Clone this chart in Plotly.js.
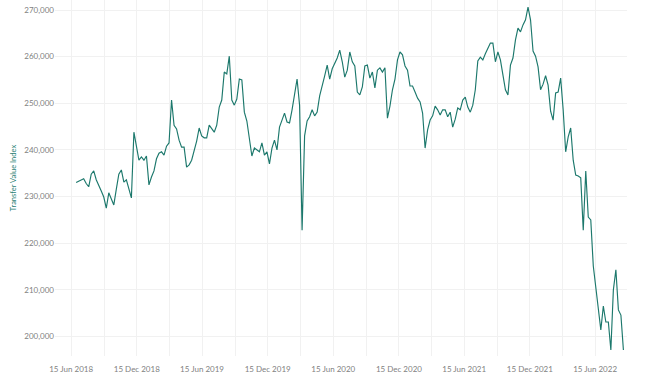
<!DOCTYPE html>
<html>
<head>
<meta charset="utf-8">
<script src="https://cdn.plot.ly/plotly-3.0.1.min.js"></script>
<style>
html,body{margin:0;padding:0;background:#fff;}
#chart{width:649px;height:383px;}
</style>
</head>
<body>
<div id="chart"></div>
<script>
// Weekly observation dates
const dates = [
"2018-06-29","2018-07-06","2018-07-13","2018-07-20","2018-07-27","2018-08-03","2018-08-10","2018-08-17","2018-08-24","2018-08-31",
"2018-09-07","2018-09-14","2018-09-21","2018-09-28","2018-10-05","2018-10-12","2018-10-19","2018-10-26","2018-11-02","2018-11-09",
"2018-11-16","2018-11-23","2018-11-30","2018-12-07","2018-12-14","2018-12-21","2018-12-28",
"2019-01-04","2019-01-11","2019-01-18","2019-01-25","2019-02-01","2019-02-08","2019-02-15","2019-02-22","2019-03-01","2019-03-08",
"2019-03-15","2019-03-22","2019-03-29","2019-04-05","2019-04-12","2019-04-19","2019-04-26","2019-05-03","2019-05-10","2019-05-17",
"2019-05-24","2019-05-31","2019-06-07","2019-06-14","2019-06-21","2019-06-28","2019-07-05","2019-07-12","2019-07-19","2019-07-26",
"2019-08-02","2019-08-09","2019-08-16","2019-08-23","2019-08-30","2019-09-06","2019-09-13","2019-09-20","2019-09-27","2019-10-04",
"2019-10-11","2019-10-18","2019-10-25","2019-11-01","2019-11-08","2019-11-15","2019-11-22","2019-11-29","2019-12-06","2019-12-13",
"2019-12-20","2019-12-27",
"2020-01-03","2020-01-10","2020-01-17","2020-01-24","2020-01-31","2020-02-07","2020-02-14","2020-02-21","2020-02-28","2020-03-06",
"2020-03-13","2020-03-20","2020-03-27","2020-04-03","2020-04-10","2020-04-17","2020-04-24","2020-05-01","2020-05-08","2020-05-15",
"2020-05-22","2020-05-29","2020-06-05","2020-06-12","2020-06-19","2020-06-26","2020-07-03","2020-07-10","2020-07-17","2020-07-24",
"2020-07-31","2020-08-07","2020-08-14","2020-08-21","2020-08-28","2020-09-04","2020-09-11","2020-09-18","2020-09-25","2020-10-02",
"2020-10-09","2020-10-16","2020-10-23","2020-10-30","2020-11-06","2020-11-13","2020-11-20","2020-11-27","2020-12-04","2020-12-11",
"2020-12-18","2020-12-25",
"2021-01-01","2021-01-08","2021-01-15","2021-01-22","2021-01-29","2021-02-05","2021-02-12","2021-02-19","2021-02-26","2021-03-05",
"2021-03-12","2021-03-19","2021-03-26","2021-04-02","2021-04-09","2021-04-16","2021-04-23","2021-04-30","2021-05-07","2021-05-14",
"2021-05-21","2021-05-28","2021-06-04","2021-06-11","2021-06-18","2021-06-25","2021-07-02","2021-07-09","2021-07-16","2021-07-23",
"2021-07-30","2021-08-06","2021-08-13","2021-08-20","2021-08-27","2021-09-03","2021-09-10","2021-09-17","2021-09-24","2021-10-01",
"2021-10-08","2021-10-15","2021-10-22","2021-10-29","2021-11-05","2021-11-12","2021-11-19","2021-11-26","2021-12-03","2021-12-10",
"2021-12-17","2021-12-24","2021-12-31",
"2022-01-07","2022-01-14","2022-01-21","2022-01-28","2022-02-04","2022-02-11","2022-02-18","2022-02-25","2022-03-04","2022-03-11",
"2022-03-18","2022-03-25","2022-04-01","2022-04-08","2022-04-15","2022-04-22","2022-04-29","2022-05-06","2022-05-13","2022-05-20",
"2022-05-27","2022-06-03","2022-06-10","2022-06-17","2022-06-24","2022-07-01","2022-07-08","2022-07-15","2022-07-22","2022-07-29",
"2022-08-05","2022-08-12","2022-08-19","2022-08-26","2022-09-02"
];

// Transfer Value Index (GBP)
const transferValueIndex = [
233000,233300,233600,233800,232800,232100,234800,235500,233600,232500,
231200,229900,227500,230800,229500,228200,231600,234800,235700,233100,
233600,231800,229700,243800,240400,237800,238500,
237800,238700,232500,234200,235500,238100,239300,239600,238900,240800,
241500,250700,245300,244500,242100,240600,240600,236300,236800,237800,
239600,241900,244700,243000,242600,242600,245300,244500,243800,245300,
249200,250700,256700,256300,260100,250700,249600,250900,255200,255000,
248100,246200,242800,238700,240400,240000,239600,241500,238900,239600,
237000,240400,
242100,240000,244900,246400,247900,246000,245800,248600,252000,255200,
249600,222800,243000,246200,247100,248600,247300,248100,251600,253500,
255900,258200,255200,257400,258600,259700,261400,258900,255600,257100,
261000,258900,258000,252400,251800,253500,258000,258200,255400,256700,
253300,257100,257600,256700,257600,246800,249400,252900,255200,259300,
261000,260400,
258000,257100,253700,253700,252400,251100,250300,247900,240400,244300,
246400,247300,249400,248600,247500,248600,248600,247100,248100,244900,
246600,249000,248600,250700,251300,249200,248100,249600,252900,259100,
259900,259300,260600,261900,262900,262900,258900,261000,259300,256100,
252900,251800,258200,259700,263600,266100,265300,266800,267900,270600,
267900,261200,260100,
257800,252900,254100,255900,253900,248300,246400,252200,252400,255400,
248600,239600,242800,244700,237800,234600,234400,234000,222800,235500,
225600,225000,215100,210400,205000,201400,206500,203100,203100,197100,
210000,214300,205700,204600,197100
];

// Axis ticks
const xTickVals = ["2018-06-15","2018-12-15","2019-06-15","2019-12-15","2020-06-15","2020-12-15","2021-06-15","2021-12-15","2022-06-15"];
const xTickText = ["15 Jun 2018","15 Dec 2018","15 Jun 2019","15 Dec 2019","15 Jun 2020","15 Dec 2020","15 Jun 2021","15 Dec 2021","15 Jun 2022"];
const xMinorVals = ["2018-09-15","2019-03-15","2019-09-15","2020-03-15","2020-09-15","2021-03-15","2021-09-15","2022-03-15","2022-09-15"];
const yTickVals = [200000,210000,220000,230000,240000,250000,260000,270000];

const lineColor = "#1c786c";
const gridColor = "#f1f1f1";
const tickFont = {family: "Lato, 'Open Sans', sans-serif", size: 8, color: "#7f7f7f"};

const trace = {
  x: dates,
  y: transferValueIndex,
  type: "scatter",
  mode: "lines",
  line: {color: lineColor, width: 1.15},
  hoverinfo: "x+y"
};

const layout = {
  width: 649,
  height: 383,
  margin: {l: 55, r: 22, t: 0, b: 27},
  paper_bgcolor: "#ffffff",
  plot_bgcolor: "#ffffff",
  showlegend: false,
  xaxis: {
    type: "date",
    range: ["2018-05-01", "2022-09-12"],
    tickmode: "array",
    tickvals: xTickVals,
    ticktext: xTickText,
    tickfont: tickFont,
    ticks: "outside",
    ticklen: 5,
    tickcolor: "rgba(0,0,0,0)",
    showgrid: true,
    gridcolor: gridColor,
    gridwidth: 1,
    zeroline: false,
    showline: false,
    minor: {tickmode: "array", tickvals: xMinorVals, showgrid: true, gridcolor: gridColor, gridwidth: 1, ticks: ""}
  },
  yaxis: {
    range: [195818, 272144],
    tickmode: "array",
    tickvals: yTickVals,
    tickprefix: "£",
    tickformat: ",d",
    tickfont: tickFont,
    showgrid: true,
    gridcolor: gridColor,
    gridwidth: 1,
    zeroline: false,
    showline: false,
    ticks: "",
    title: {text: "Transfer Value Index", font: {family: "Lato, 'Open Sans', sans-serif", size: 7.5, color: "#2a7f74"}, standoff: 6}
  }
};

Plotly.newPlot("chart", [trace], layout, {displayModeBar: false, staticPlot: true});
</script>
</body>
</html>
